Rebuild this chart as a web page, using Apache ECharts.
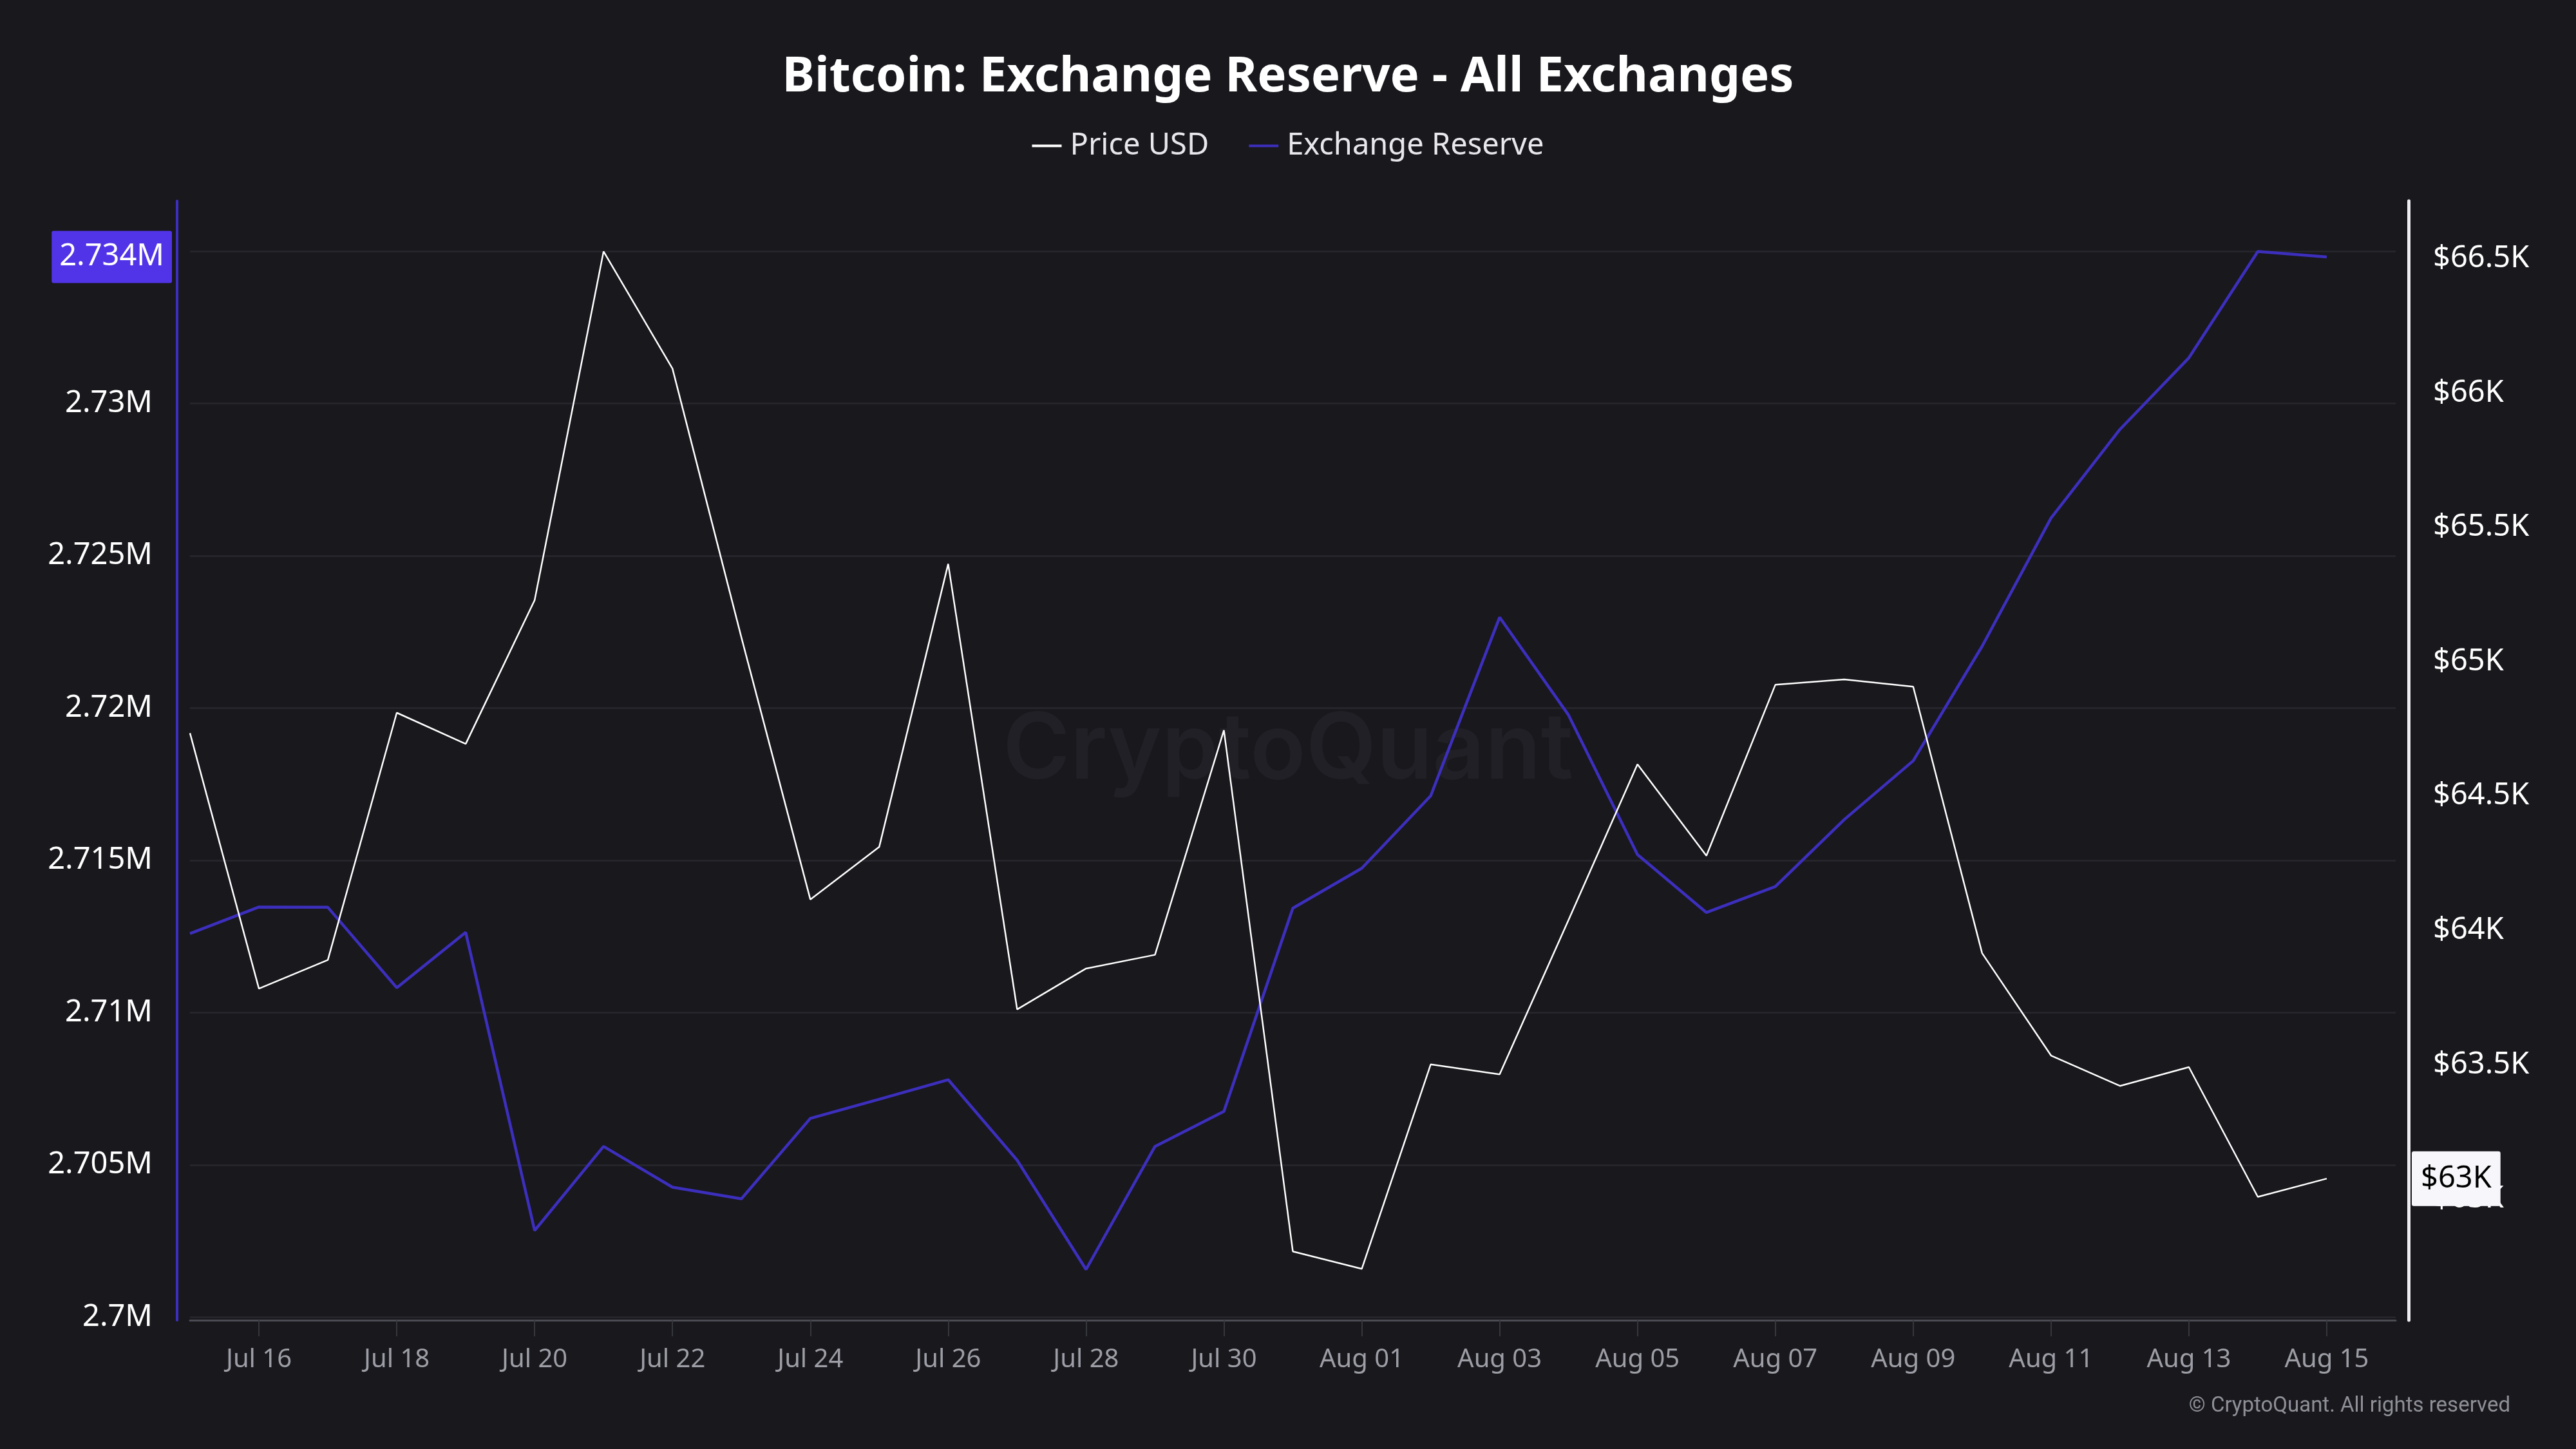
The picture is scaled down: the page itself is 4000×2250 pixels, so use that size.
<!DOCTYPE html>
<html>
<head>
<meta charset="utf-8">
<title>Bitcoin: Exchange Reserve - All Exchanges</title>
<script src="https://cdn.jsdelivr.net/npm/echarts@6.0.0/dist/echarts.min.js"></script>
<style>
  html, body { margin: 0; padding: 0; background: #18181d; }
  #chart { width: 4000px; height: 2250px; }
</style>
</head>
<body>
<div id="chart"></div>
<script>
// daily points, Jul 15 .. Aug 15
const dates = [
  'Jul 15', 'Jul 16', 'Jul 17', 'Jul 18', 'Jul 19', 'Jul 20', 'Jul 21', 'Jul 22',
  'Jul 23', 'Jul 24', 'Jul 25', 'Jul 26', 'Jul 27', 'Jul 28', 'Jul 29', 'Jul 30',
  'Jul 31', 'Aug 01', 'Aug 02', 'Aug 03', 'Aug 04', 'Aug 05', 'Aug 06', 'Aug 07',
  'Aug 08', 'Aug 09', 'Aug 10', 'Aug 11', 'Aug 12', 'Aug 13', 'Aug 14', 'Aug 15'
];

const priceUsd = [
  64734, 63783, 63890, 64810, 64694, 65229, 66527, 66091,
  65090, 64115, 64311, 65364, 63706, 63858, 63909, 64745,
  62805, 62740, 63501, 63464, 64039, 64618, 64278, 64914,
  64934, 64907, 63915, 63534, 63421, 63491, 63008, 63076
];

const exchangeReserve = [
  2712600, 2713470, 2713460, 2710820, 2712640, 2702850, 2705610, 2704270,
  2703890, 2706530, 2707160, 2707800, 2705160, 2701570, 2705610, 2706760,
  2713430, 2714740, 2717120, 2722980, 2719770, 2715190, 2713290, 2714140,
  2716340, 2718270, 2722030, 2726240, 2729150, 2731500, 2734990, 2734810
];

// gridlines go up to 2.735M, its label sits under the last-value box
const reserveTicks = [2700000, 2705000, 2710000, 2715000, 2720000, 2725000, 2730000, 2735000];
const reserveLabels = [2700000, 2705000, 2710000, 2715000, 2720000, 2725000, 2730000];
const priceTicks = [63000, 63500, 64000, 64500, 65000, 65500, 66000, 66500];
const dateTicks = [1, 3, 5, 7, 9, 11, 13, 15, 17, 19, 21, 23, 25, 27, 29, 31];

const FONT = 'Noto Sans';
const PURPLE = '#3d2fbd';

const chart = echarts.init(document.getElementById('chart'), null, { renderer: 'canvas' });

var option = {
  backgroundColor: '#18181d',
  animation: false,
  title: {
    text: 'Bitcoin: Exchange Reserve - All Exchanges',
    left: 'center',
    top: 77,
    textStyle: {
      color: '#ffffff',
      fontSize: 76,
      fontWeight: 'bold',
      fontFamily: FONT
    }
  },
  legend: {
    top: 198,
    left: 'center',
    itemWidth: 46,
    itemHeight: 4,
    itemGap: 62,
    icon: 'rect',
    textStyle: {
      color: '#e8e8ec',
      fontSize: 47,
      fontFamily: FONT,
      padding: [0, 0, 0, 8]
    },
    data: ['Price USD', 'Exchange Reserve']
  },
  // last-value boxes on both y axes stay fixed, no mouse handling
  axisPointer: {
    triggerOn: 'none'
  },
  grid: {
    left: 295,
    right: 280,
    top: 312,
    bottom: 200
  },
  xAxis: {
    type: 'value',
    min: 0,
    max: 32,
    axisLine: {
      show: true,
      onZero: false,
      lineStyle: { color: '#4b4b53', width: 3 }
    },
    axisTick: {
      show: true,
      customValues: dateTicks,
      length: 25,
      lineStyle: { color: '#36363d', width: 2 }
    },
    axisLabel: {
      customValues: dateTicks,
      formatter: function (v) { return dates[v]; },
      color: '#9d9da6',
      fontSize: 40,
      fontFamily: FONT,
      margin: 42
    },
    splitLine: { show: false }
  },
  yAxis: [{
    type: 'value',
    position: 'left',
    offset: 20,
    min: 2699905,
    max: 2736650,
    axisLine: {
      show: true,
      onZero: false,
      lineStyle: { color: PURPLE, width: 4 }
    },
    axisTick: { show: false, customValues: reserveTicks },
    axisLabel: {
      customValues: reserveLabels,
      formatter: function (v) { return parseFloat((v / 1e6).toFixed(3)) + 'M'; },
      color: '#ffffff',
      fontSize: 47,
      fontFamily: FONT,
      margin: 38,
      padding: [0, 0, 8, 0]
    },
    splitLine: {
      show: true,
      lineStyle: { color: '#27272e', width: 2.5 }
    },
    axisPointer: {
      show: true,
      status: 'show',
      value: exchangeReserve[exchangeReserve.length - 1],
      triggerTooltip: false,
      lineStyle: { opacity: 0 },
      label: {
        show: true,
        formatter: function (p) { return (Math.floor(p.value / 1000) / 1000).toFixed(3) + 'M'; },
        backgroundColor: '#5234e8',
        color: '#ffffff',
        fontSize: 47,
        fontFamily: FONT,
        padding: [17, 12, 17, 12],
        margin: 8
      }
    }
  }, {
    type: 'value',
    position: 'right',
    offset: 20,
    min: 62549,
    max: 66715,
    axisLine: {
      show: true,
      onZero: false,
      lineStyle: { color: '#ececf2', width: 5 }
    },
    axisTick: { show: false, customValues: priceTicks },
    axisLabel: {
      customValues: priceTicks,
      formatter: function (v) { return '$' + (v / 1000) + 'K'; },
      color: '#ffffff',
      fontSize: 47,
      fontFamily: FONT,
      margin: 38,
      padding: [0, 0, 16, 0]
    },
    splitLine: { show: false },
    axisPointer: {
      show: true,
      status: 'show',
      value: priceUsd[priceUsd.length - 1],
      triggerTooltip: false,
      lineStyle: { opacity: 0 },
      label: {
        show: true,
        formatter: function (p) { return '$' + Math.round(p.value / 1000) + 'K'; },
        backgroundColor: '#f7f7fb',
        color: '#000000',
        fontSize: 47,
        fontFamily: FONT,
        padding: [19, 14, 19, 14],
        margin: 5
      }
    }
  }],
  graphic: [{
    type: 'text',
    left: 'center',
    top: 1095,
    z: 0,
    silent: true,
    style: {
      text: 'CryptoQuant',
      fill: '#202026',
      font: '600 142px Inter'
    }
  }, {
    type: 'text',
    right: 102,
    top: 2167,
    silent: true,
    style: {
      text: '© CryptoQuant. All rights reserved',
      fill: '#8f8f98',
      font: '33px Roboto'
    }
  }],
  series: [{
    name: 'Price USD',
    type: 'line',
    yAxisIndex: 1,
    symbol: 'none',
    z: 3,
    lineStyle: { color: '#ffffff', width: 2.5 },
    itemStyle: { color: '#ffffff' },
    data: priceUsd.map(function (v, i) { return [i, v]; })
  }, {
    name: 'Exchange Reserve',
    type: 'line',
    yAxisIndex: 0,
    symbol: 'none',
    z: 2,
    lineStyle: { color: PURPLE, width: 4.5 },
    itemStyle: { color: PURPLE },
    data: exchangeReserve.map(function (v, i) { return [i, v]; })
  }]
};

chart.setOption(option);
</script>
</body>
</html>
